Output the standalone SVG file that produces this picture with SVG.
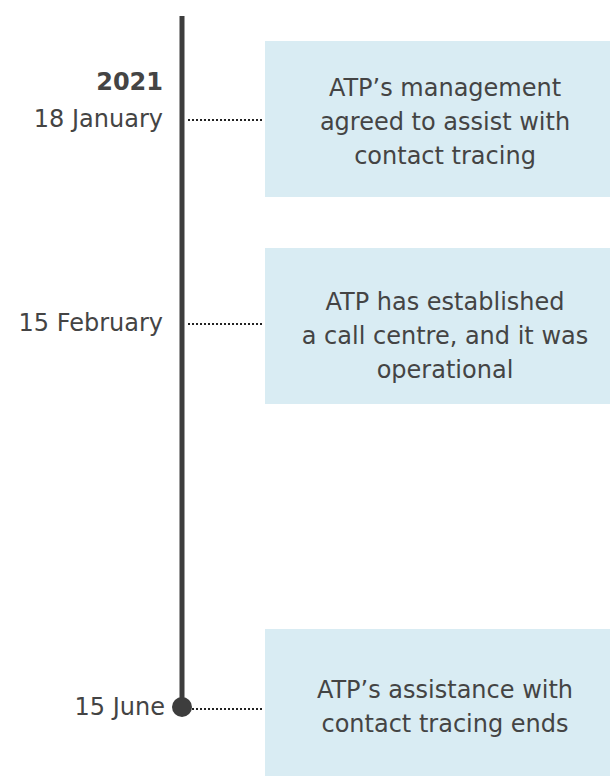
<svg xmlns="http://www.w3.org/2000/svg" width="610" height="776" viewBox="0 0 610 776">
<style>
.box{fill:#d9ecf3}
.t{font-family:"DejaVu Sans",Verdana,sans-serif;font-size:24px;fill:#444}
.c{text-anchor:middle}
.r{text-anchor:end}
.dot{stroke:#222;stroke-width:2;stroke-dasharray:2 2;fill:none}
</style>
<rect width="610" height="776" fill="#fff"/>
<g id="connectors">
<line x1="182" y1="16" x2="182" y2="707" stroke="#3d3d3d" stroke-width="5"/>
<line class="dot" x1="188" y1="120" x2="264" y2="120"/>
<line class="dot" x1="188" y1="324" x2="264" y2="324"/>
<line class="dot" x1="192" y1="709" x2="264" y2="709"/>
<circle cx="182" cy="707" r="10" fill="#3d3d3d"/>
</g>
<g id="date1">
<text class="t r" x="163" y="90" font-weight="bold" font-size="19">2021</text>
<text class="t r" x="163" y="127">18 January</text>
</g>
<g id="date2"><text class="t r" x="163" y="331">15 February</text></g>
<g id="date3"><text class="t r" x="165" y="715">15 June</text></g>
<g id="event1">
<rect class="box" x="265" y="41" width="345" height="156"/>
<text class="t c" x="445" y="96">ATP’s management</text>
<text class="t c" x="445" y="130">agreed to assist with</text>
<text class="t c" x="445" y="164">contact tracing</text>
</g>
<g id="event2">
<rect class="box" x="265" y="248" width="345" height="156"/>
<text class="t c" x="445" y="310">ATP has established</text>
<text class="t c" x="445" y="344">a call centre, and it was</text>
<text class="t c" x="445" y="378">operational</text>
</g>
<g id="event3">
<rect class="box" x="265" y="629" width="345" height="147"/>
<text class="t c" x="445" y="698">ATP’s assistance with</text>
<text class="t c" x="445" y="732">contact tracing ends</text>
</g>
</svg>
